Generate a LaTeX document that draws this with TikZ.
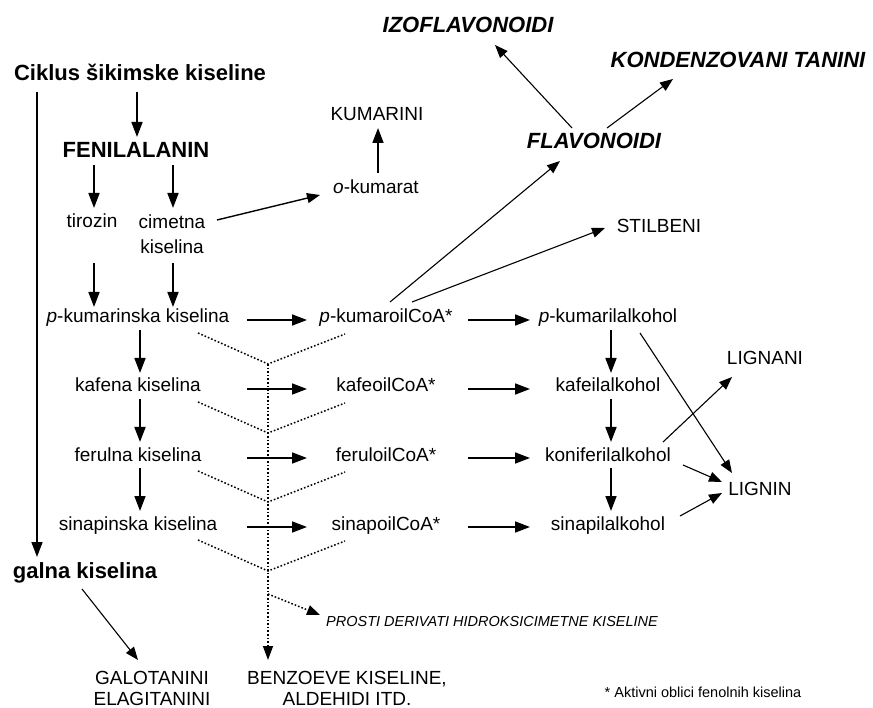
\documentclass[tikz,border=0pt]{standalone}
\usepackage{fontspec}
\setmainfont{Liberation Sans}
\usetikzlibrary{arrows.meta}

\begin{document}
\begin{tikzpicture}[x=1pt, y=-1pt]
	\tikzstyle{txt} = [inner sep=0pt, text height=14pt, text depth=4pt, font={\fontsize{19}{25}\selectfont}];
	\tikzstyle{lines} = [inner sep=0pt, align=center, font={\fontsize{19}{25}\selectfont}];
	\tikzstyle{big} = [inner sep=0pt, text height=16pt, text depth=5pt, font={\fontsize{22}{26}\selectfont\bfseries}];
	\tikzstyle{bigit} = [inner sep=0pt, text height=16pt, text depth=5pt, font={\fontsize{22}{26}\selectfont\bfseries\itshape}];
	\tikzstyle{note} = [inner sep=0pt, font={\fontsize{14.5}{17}\selectfont}];
	\tikzstyle{arr} = [-{Triangle[length=15pt, width=11pt]}, line width=1.7pt];
	\tikzstyle{tarr} = [-{Triangle[length=13pt, width=10pt]}, line width=1.1pt];
	\tikzstyle{dots} = [line width=1.5pt, dash pattern=on 1.6pt off 2pt];

	\useasboundingbox (0,0) rectangle (873,708);

	% top part
	\node[big] (cik) at (140,75) {Ciklus šikimske kiseline};
	\node[big] (fen) at (136,152) {FENILALANIN};
	\node[txt] (tir) at (92,223) {tirozin};
	\node[lines] (cim) at (172,234.5) {cimetna\\kiselina};
	\node[txt] (okum) at (376,189) {\emph{o}-kumarat};
	\node[txt] (kum) at (377,116) {KUMARINI};
	\node[bigit] (flav) at (594,143) {FLAVONOIDI};
	\node[bigit] (izo) at (468,27) {IZOFLAVONOIDI};
	\node[bigit] (kond) at (738,62) {KONDENZOVANI TANINI};
	\node[txt] (stil) at (659,228) {STILBENI};
	\node[txt] (lignani) at (765,360) {LIGNANI};
	\node[txt] (lignin) at (760,490) {LIGNIN};

	% bottom part
	\node[big] (galna) at (85,573) {galna kiselina};
	\node[lines, anchor=north, font={\fontsize{19}{21}\selectfont}] (galo) at (152,671) {GALOTANINI\\ELAGITANINI};
	\node[lines, anchor=north, font={\fontsize{19}{21}\selectfont}] (benz) at (347,671) {BENZOEVE KISELINE,\\ALDEHIDI ITD.};
	\node[note, font={\fontsize{14.5}{17}\selectfont\itshape}] (prosti) at (492,622) {PROSTI DERIVATI HIDROKSICIMETNE KISELINE};
	\node[note] (akt) at (703,692) {* Aktivni oblici fenolnih kiselina};

	% acids, CoA esters and alcohols
	\foreach \kis/\coa/\alk [count=\i] in {
		{\emph{p}-kumarinska kiselina}/{\emph{p}-kumaroilCoA*}/{\emph{p}-kumarilalkohol},
		{kafena kiselina}/{kafeoilCoA*}/{kafeilalkohol},
		{ferulna kiselina}/{feruloilCoA*}/{koniferilalkohol},
		{sinapinska kiselina}/{sinapoilCoA*}/{sinapilalkohol}} {
		\node[txt] (kis\i) at (138, 249+69*\i) {\kis};
		\node[txt] (coa\i) at (386, 249+69*\i) {\coa};
		\node[txt] (alk\i) at (608, 249+69*\i) {\alk};
		\coordinate (v\i) at ([shift={(130,46)}]kis\i.center);
		\draw[dots] ([shift={(60,15)}]kis\i.center) -- (v\i) -- ([shift={(-41,16)}]coa\i.center);
		\draw[arr] ([shift={(109,2)}]kis\i.center) -- ([shift={(-79,2)}]coa\i.center);
		\draw[arr] ([shift={(82,2)}]coa\i.center) -- ([shift={(-78,2)}]alk\i.center);
		\ifnum 1 < \i
			\pgfmathparse{int(\i-1)}
			\let \li \pgfmathresult
			\draw[arr] ([shift={(2,12)}]kis\li.center) -- ([shift={(2,-14)}]kis\i.center);
			\draw[arr] ([shift={(3,12)}]alk\li.center) -- ([shift={(3,-14)}]alk\i.center);
		\fi
	}

	\draw[arr] ([shift={(-3,17)}]cik.center) -- ([shift={(1,-15)}]fen.center);
	\draw[arr] ([shift={(-42,13)}]fen.center) -- ([shift={(2,-15)}]tir.center);
	\draw[arr] ([shift={(37,13)}]fen.center) -- ([shift={(1,-26.5)}]cim.center);
	\draw[arr] ([shift={(2,40)}]tir.center) -- ([shift={(-44,-11)}]kis1.center);
	\draw[arr] ([shift={(1,28.5)}]cim.center) -- ([shift={(35,-11)}]kis1.center);
	\draw[tarr, line width=1.4pt] ([shift={(45,-14.5)}]cim.center) -- ([shift={(-56,6)}]okum.center);
	\draw[arr] ([shift={(2,-16)}]okum.center) -- ([shift={(1,12)}]kum.center);
	\draw[arr, line width=1.5pt] ([shift={(-103,17)}]cik.center) -- ([shift={(-48,-16)}]galna.center);

	\draw[tarr] ([shift={(4,-16)}]coa1.center) -- ([shift={(-34,18)}]flav.center);
	\draw[tarr] ([shift={(26,-16)}]coa1.center) -- ([shift={(-54,0)}]stil.center);
	\draw[tarr] ([shift={(-22,-15)}]flav.center) -- ([shift={(27,18)}]izo.center);
	\draw[tarr] ([shift={(13,-15)}]flav.center) -- ([shift={(-65,17)}]kond.center);

	\draw[tarr] ([shift={(32,15)}]alk1.center) -- ([shift={(-28,-17)}]lignin.center);
	\draw[tarr] ([shift={(55,-14)}]alk3.center) -- ([shift={(-33,17)}]lignani.center);
	\draw[tarr] ([shift={(75,9)}]alk3.center) -- ([shift={(-38,-8)}]lignin.center);
	\draw[tarr] ([shift={(72,-9)}]alk4.center) -- ([shift={(-38,3)}]lignin.center);

	\draw[tarr] ([shift={(-3,16)}]galna.center) -- ([shift={(-14,-11)}]galo.north);
	\draw[dots, -{Triangle[length=14pt, width=10pt]}] (v1) -- ([shift={(-79,-11)}]benz.north);
	\draw[dots, -{Triangle[length=13pt, width=10pt]}] ([shift={(0,23)}]v4) -- ([shift={(-172,-7)}]prosti.center);
\end{tikzpicture}
\end{document}
